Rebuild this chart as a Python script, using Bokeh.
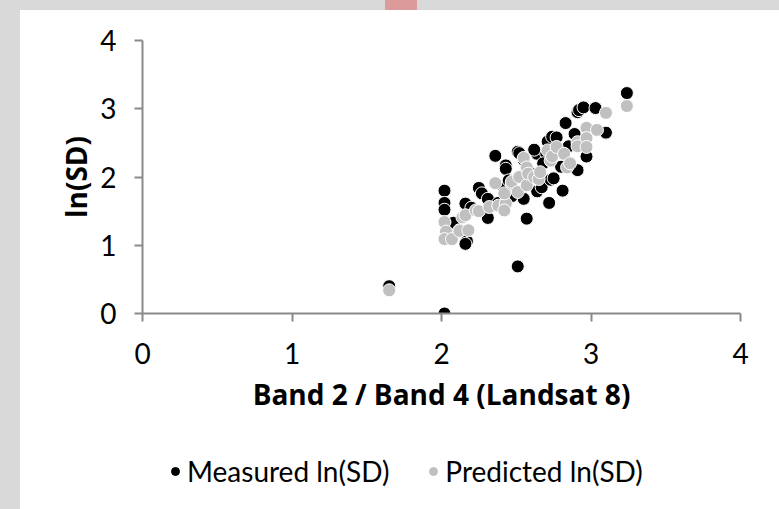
from bokeh.plotting import figure
from bokeh.models import (Legend, LegendItem, Range1d, FixedTicker, Spacer, Div,
                          GlobalInlineStyleSheet, ColumnDataSource)
from bokeh.layouts import row, column
from bokeh.embed import file_html
from bokeh.resources import INLINE

x_ticks = [0, 1, 2, 3, 4]
y_ticks = [0, 1, 2, 3, 4]
x_title = "Band 2 / Band 4 (Landsat 8)"
y_title = "ln(SD)"
series_names = ["Measured ln(SD)", "Predicted ln(SD)"]

measured_x = [1.65, 2.02, 2.02, 2.02, 2.02, 2.08, 2.16, 2.17, 2.16, 2.25, 2.27, 2.31,
              2.31, 2.36, 2.42, 2.43, 2.43, 2.51, 2.52, 2.51, 2.55, 2.57, 2.64, 2.64,
              2.67, 2.71, 2.72, 2.73, 2.74, 2.75, 2.77, 2.81, 2.83, 2.89, 2.91, 2.91,
              2.92, 2.95, 2.97, 3.03, 3.10, 3.24, 2.20, 2.45, 2.60, 2.70, 2.85, 2.38,
              2.55, 2.80, 2.12, 2.47, 2.62, 2.68]
measured_y = [0.40, 0.00, 1.80, 1.62, 1.52, 1.33, 1.61, 1.06, 1.02, 1.84, 1.76, 1.68,
              1.40, 2.31, 1.83, 2.17, 2.12, 2.37, 2.35, 0.69, 1.68, 1.39, 2.34, 1.79,
              1.85, 2.52, 1.62, 1.96, 2.59, 1.98, 2.58, 1.80, 2.79, 2.63, 2.95, 2.10,
              2.98, 3.02, 2.30, 3.01, 2.65, 3.23, 1.55, 1.95, 2.05, 2.35, 2.45, 1.62,
              2.25, 2.15, 1.22, 1.72, 2.40, 2.20]

predicted_x = [1.65, 2.02, 2.03, 2.02, 2.07, 2.12, 2.18, 2.14, 2.16, 2.23, 2.25, 2.32,
               2.36, 2.38, 2.43, 2.42, 2.42, 2.47, 2.47, 2.52, 2.51, 2.55, 2.57, 2.57,
               2.58, 2.62, 2.65, 2.66, 2.71, 2.73, 2.74, 2.77, 2.82, 2.84, 2.86, 2.91,
               2.91, 2.97, 2.97, 2.97, 3.04, 3.10, 3.24]
predicted_y = [0.34, 1.34, 1.20, 1.09, 1.09, 1.21, 1.22, 1.41, 1.44, 1.51, 1.50, 1.56,
               1.91, 1.58, 1.61, 1.51, 1.76, 1.90, 1.93, 2.00, 1.78, 2.28, 2.14, 1.88,
               2.05, 2.00, 1.97, 2.07, 2.39, 2.24, 2.30, 2.44, 2.34, 2.14, 2.20, 2.51,
               2.45, 2.72, 2.57, 2.44, 2.69, 2.94, 3.04]

GRAY_BG = "#d9d9d9"
AXIS_COLOR = "#898989"
MEAS_COLOR = "black"
PRED_COLOR = "#c0c0c0"

src_m = ColumnDataSource(dict(x=measured_x, y=measured_y))
src_p = ColumnDataSource(dict(x=predicted_x, y=predicted_y))

# ---- main scatter figure ----
p = figure(width=759, height=430, output_backend="svg", toolbar_location=None,
           x_range=Range1d(0, 4), y_range=Range1d(0, 4),
           min_border_left=122, min_border_right=39, min_border_top=30,
           min_border_bottom=127)
p.background_fill_color = "white"
p.border_fill_color = "white"
p.outline_line_color = None
p.xgrid.visible = False
p.ygrid.visible = False

p.scatter("x", "y", source=src_m, size=13, fill_color=MEAS_COLOR,
          line_color="white", line_width=1)
p.scatter("x", "y", source=src_p, size=13, fill_color=PRED_COLOR,
          line_color="white", line_width=1)

for ax, ticks in ((p.xaxis, x_ticks), (p.yaxis, y_ticks)):
    ax.ticker = FixedTicker(ticks=ticks)
    ax.minor_tick_line_color = None
    ax.major_tick_in = 0
    ax.major_tick_out = 8
    ax.major_tick_line_color = AXIS_COLOR
    ax.major_tick_line_width = 2
    ax.axis_line_color = AXIS_COLOR
    ax.axis_line_width = 2
    ax.major_label_text_font = "Lato"
    ax.major_label_text_font_size = "28px"
    ax.major_label_text_color = "black"
    ax.axis_label_text_font = "Open Sans"
    ax.axis_label_text_font_style = "bold"
    ax.axis_label_text_font_size = "28px"
    ax.axis_label_text_color = "black"

p.xaxis.axis_label = x_title
p.yaxis.axis_label = y_title
p.xaxis.major_label_standoff = 21
p.xaxis.axis_label_standoff = 8
p.yaxis.major_label_standoff = 18
p.yaxis.axis_label_standoff = 2

# ---- legend strip: same data sources, ranges that show no points ----
lg = figure(width=759, height=69, output_backend="svg", toolbar_location=None,
            x_range=Range1d(0, 1), y_range=Range1d(0, 1),
            x_axis_type=None, y_axis_type=None,
            min_border_left=0, min_border_right=0, min_border_top=0,
            min_border_bottom=0)
lg.background_fill_color = "white"
lg.border_fill_color = "white"
lg.outline_line_color = None
lr_m = lg.scatter("x", "y", source=src_m, size=13, fill_color=MEAS_COLOR,
                  line_color=MEAS_COLOR, line_width=1)
lr_p = lg.scatter("x", "y", source=src_p, size=13, fill_color=PRED_COLOR,
                  line_color=PRED_COLOR, line_width=1)

legend = Legend(items=[LegendItem(label=series_names[0], renderers=[lr_m]),
                       LegendItem(label=series_names[1], renderers=[lr_p])],
                orientation="horizontal", location=(23, 21),
                border_line_color=None, background_fill_alpha=0,
                label_text_font="Lato", label_text_font_size="28px",
                label_text_color="black", glyph_width=20, glyph_height=20,
                label_standoff=2, spacing=34, padding=10, margin=0)
lg.add_layout(legend, "center")

p.stylesheets = [GlobalInlineStyleSheet(
    css="html, body { margin:0; padding:0; background:%s; overflow:hidden; }" % GRAY_BG)]

pink = Div(width=32, height=10, margin=0,
           styles={"background-color": "#dc9a9a"})
top_row = row(Spacer(width=365, height=10, margin=0), pink, margin=0)
charts = column(p, lg, margin=0, styles={"background-color": "white"})
layout = row(Spacer(width=20, height=499, margin=0),
             column(top_row, charts, margin=0), margin=0)

open("out.html", "w").write(file_html(layout, INLINE))
